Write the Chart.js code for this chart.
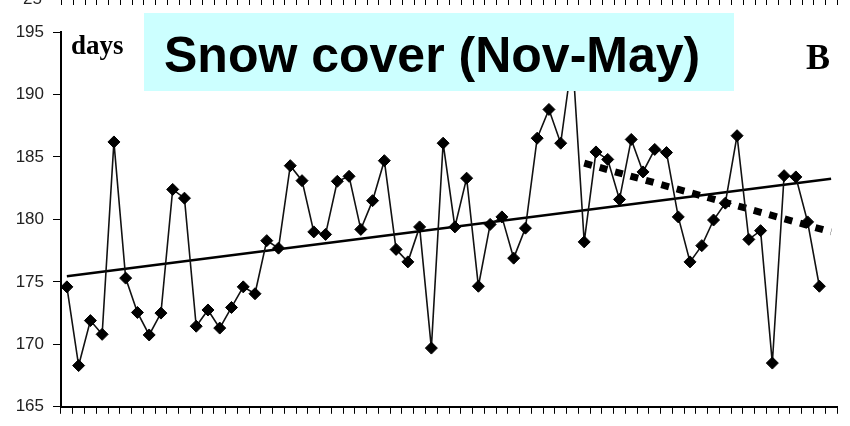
<!DOCTYPE html>
<html>
<head>
<meta charset="utf-8">
<script src="https://cdn.jsdelivr.net/npm/chart.js@4/dist/chart.umd.min.js"></script>
<style>
  html, body { margin: 0; padding: 0; background: #fff; }
  #wrap { position: relative; width: 850px; height: 426px; overflow: hidden; }
  #chart { position: absolute; left: 0; top: 0; }
  .lbl { position: absolute; white-space: nowrap; color: #000; }
  #title-box {
    position: absolute; left: 144px; top: 13px; width: 590px; height: 78px;
    background: #ccffff; box-sizing: border-box; padding-left: 20px;
  }
  #title-box span {
    display: block; position: relative; top: 3px;
    font: bold 50px "Liberation Sans", Arial, sans-serif; line-height: 78px; color: #000;
  }
</style>
</head>
<body>
<div id="wrap">
  <canvas id="chart" width="850" height="426"></canvas>
  <div class="lbl" style="left:71px; top:32px; font:bold 27px 'Liberation Serif', serif; line-height:27px;">days</div>
  <div class="lbl" style="left:806px; top:39px; font:bold 36px 'Liberation Serif', serif; line-height:36px;">B</div>
  <div class="lbl" style="left:23px; top:-10px; font:17px 'Liberation Sans', sans-serif; line-height:17px; color:#222;">25</div>
  <div id="title-box"><span>Snow cover (Nov-May)</span></div>
</div>
<script>
// snow cover duration, one value per winter (last category has no value)
const winters = [
  "1", "2", "3", "4", "5", "6", "7", "8", "9", "10", "11",
  "12", "13", "14", "15", "16", "17", "18", "19", "20", "21", "22",
  "23", "24", "25", "26", "27", "28", "29", "30", "31", "32", "33",
  "34", "35", "36", "37", "38", "39", "40", "41", "42", "43", "44",
  "45", "46", "47", "48", "49", "50", "51", "52", "53", "54", "55",
  "56", "57", "58", "59", "60", "61", "62", "63", "64", "65", "66"
];

const snowDays = [
  174.6, 168.3, 171.9, 170.8, 186.2, 175.3, 172.55, 170.75, 172.5, 182.4, 181.7,
  171.45, 172.75, 171.3, 172.95, 174.6, 174.05, 178.3, 177.7, 184.3, 183.1, 179.0,
  178.8, 183.05, 183.45, 179.2, 181.5, 184.7, 177.6, 176.6, 179.4, 169.7, 186.1,
  179.4, 183.3, 174.65, 179.6, 180.2, 176.9, 179.3, 186.5, 188.8, 186.1, 193.0,
  178.2, 185.4, 184.8, 181.6, 186.4, 183.8, 185.6, 185.35, 180.2, 176.6, 177.9,
  179.95, 181.3, 186.7, 178.4, 179.1, 168.5, 183.5, 183.4, 179.8, 174.65, null
];

// linear trend over the whole record: first and last winter
const trendAllEnds = [175.45, 183.25];
// trend over the recent part, starting at winter 45
const trendRecentFrom = 44;
const trendRecentEnds = [184.5, 179.0];

const yTicks = [165, 170, 175, 180, 185, 190, 195];

function endpointsSeries(fromIdx, ends) {
  const arr = winters.map(() => null);
  arr[fromIdx] = ends[0];
  arr[winters.length - 1] = ends[1];
  return arr;
}

// tick row of the panel above (cut off at the top edge)
const upperTicks = {
  id: "upperTicks",
  afterDraw(chart) {
    const x = chart.scales.x;
    const ctx = chart.ctx;
    const step = (x.right - x.left) / winters.length;
    ctx.save();
    ctx.strokeStyle = "#000";
    ctx.lineWidth = 1;
    ctx.beginPath();
    for (let i = 0; i <= winters.length; i++) {
      const px = Math.round(x.left + i * step) + 0.5;
      ctx.moveTo(px, 0);
      ctx.lineTo(px, 5);
    }
    ctx.stroke();
    ctx.restore();
  }
};

new Chart(document.getElementById("chart").getContext("2d"), {
  type: "line",
  data: {
    labels: winters,
    datasets: [
      {
        label: "Snow cover",
        data: snowDays,
        borderColor: "#111",
        borderWidth: 1.6,
        pointStyle: "rectRot",
        pointRadius: 6,
        pointBackgroundColor: "#000",
        pointBorderColor: "#000",
        pointBorderWidth: 1,
        tension: 0,
        spanGaps: false,
        order: 0
      },
      {
        label: "Trend",
        data: endpointsSeries(0, trendAllEnds),
        borderColor: "#000",
        borderWidth: 2.5,
        pointRadius: 0,
        spanGaps: true,
        order: 1
      },
      {
        label: "Recent trend",
        data: endpointsSeries(trendRecentFrom, trendRecentEnds),
        borderColor: "#000",
        borderWidth: 7,
        borderDash: [8, 8],
        borderCapStyle: "butt",
        pointRadius: 0,
        spanGaps: true,
        order: 2
      }
    ]
  },
  options: {
    responsive: false,
    animation: false,
    layout: { padding: { top: 32, right: 13, left: 0, bottom: 0 } },
    plugins: {
      legend: { display: false },
      tooltip: { enabled: false }
    },
    scales: {
      x: {
        type: "category",
        offset: true,
        grid: { offset: true, drawOnChartArea: false, drawTicks: true, tickLength: 7, color: "#000" },
        border: { display: true, color: "#000", width: 2 },
        ticks: { display: false, autoSkip: false },
        afterFit: s => { s.height = 13; }
      },
      y: {
        min: yTicks[0],
        max: yTicks[yTicks.length - 1],
        afterBuildTicks: s => { s.ticks = yTicks.map(v => ({ value: v })); },
        grid: { drawOnChartArea: false, drawTicks: true, tickLength: 8, color: "#000" },
        border: { display: true, color: "#000", width: 2 },
        ticks: {
          padding: 9,
          color: "#222",
          font: { family: "'Liberation Sans', Arial, sans-serif", size: 17 }
        },
        afterFit: s => { s.width = 61; }
      }
    }
  },
  plugins: [upperTicks]
});
</script>
</body>
</html>
